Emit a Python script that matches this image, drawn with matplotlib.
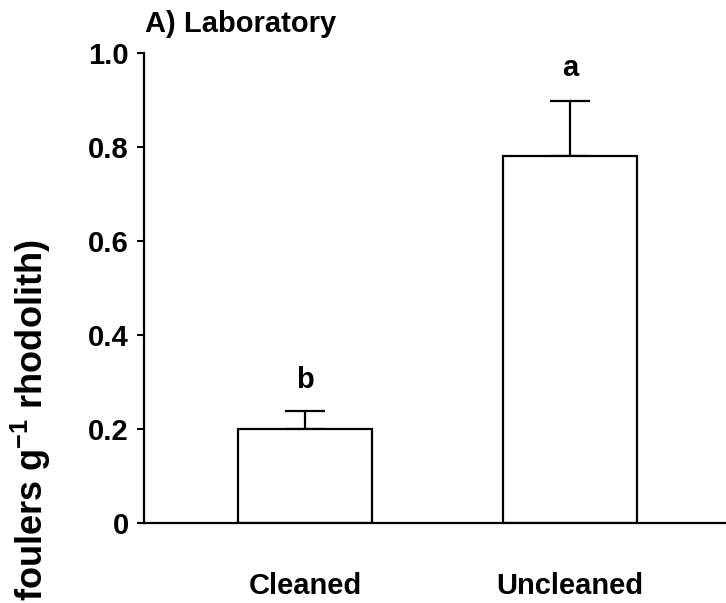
import matplotlib
matplotlib.use("Agg")
import matplotlib.pyplot as plt

categories = ["Cleaned", "Uncleaned"]
means = [0.20, 0.78]
errors = [0.038, 0.118]
letters = ["b", "a"]
letter_y = [0.305, 0.968]
yticks = [0, 0.2, 0.4, 0.6, 0.8, 1.0]
ytick_labels = ["0", "0.2", "0.4", "0.6", "0.8", "1.0"]

plt.rcParams['font.family'] = ['Liberation Sans', 'DejaVu Sans']
plt.rcParams['font.weight'] = 'bold'
plt.rcParams['mathtext.fontset'] = 'custom'
plt.rcParams['mathtext.rm'] = 'Liberation Sans'
plt.rcParams['mathtext.it'] = 'Liberation Sans'
plt.rcParams['mathtext.bf'] = 'Liberation Sans:bold'

fig = plt.figure(figsize=(7.26, 6.03), dpi=100)
ax = fig.add_axes([144/726, 1-523/603, 1-144/726, 470/603])

x = list(range(len(categories)))
ax.bar(x, means, width=0.505, color='white', edgecolor='black', linewidth=1.6, zorder=2)
ax.errorbar(x, means, yerr=[[0]*len(errors), errors], fmt='none', ecolor='black',
            elinewidth=1.6, capsize=14.4, capthick=1.6, zorder=1)
for xi, l, ly in zip(x, letters, letter_y):
    ax.text(xi, ly, l, ha='center', va='center', fontsize=21, fontweight='bold')

ax.set_xlim(-0.608, 1.589)
ax.set_ylim(0, 1.0)
ax.set_yticks(yticks)
ax.set_yticklabels(ytick_labels, fontsize=21, fontweight='bold')
ax.set_xticks(x)
ax.set_xticklabels(categories, fontsize=21, fontweight='bold')
ax.tick_params(axis='x', length=0, pad=35)
ax.tick_params(axis='y', length=5, width=1.5, pad=6)
for s in ['top', 'right']:
    ax.spines[s].set_visible(False)
for s in ['left', 'bottom']:
    ax.spines[s].set_linewidth(1.6)

fig.text(145/726, 1-32/603, "A) Laboratory", ha='left', va='baseline',
         fontsize=21, fontweight='bold')
fig.text(31/726, 1-601/603, r"foulers g$^{-1}$ rhodolith)", rotation=90,
         ha='center', va='bottom', fontsize=26, fontweight='bold')

fig.savefig("out.png", dpi=100)
